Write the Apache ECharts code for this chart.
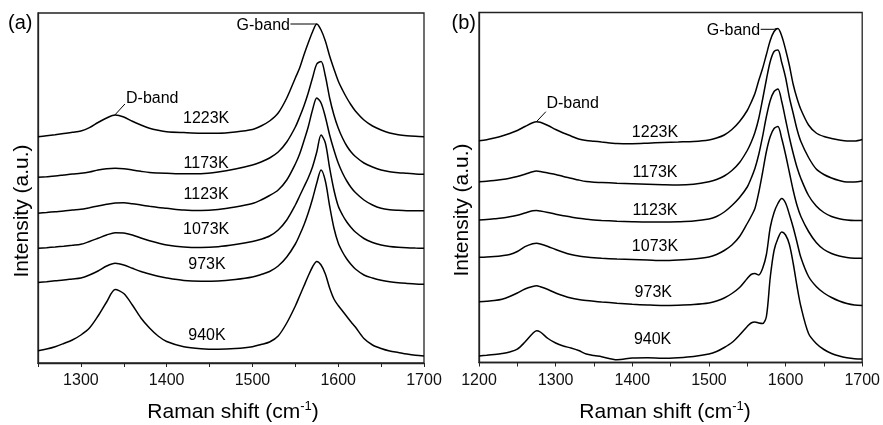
<!DOCTYPE html>
<html><head><meta charset="utf-8">
<script src="https://cdn.jsdelivr.net/npm/echarts@6/dist/echarts.min.js"></script>
<style>html,body{margin:0;padding:0;background:#fff}#c{width:883px;height:425px}</style>
</head><body><div id="c"></div>
<script>
// ---- Panel (a) ----
const shiftA = [1250,1260,1270,1280,1290,1300,1310,1320,1330,1340,1350,1360,1370,1380,1390,1400,1420,1440,1460,1480,1500,1510,1520,1530,1540,1550,1555,1560,1565,1570,1575,1580,1585,1590,1595,1600,1605,1610,1615,1620,1630,1640,1650,1660,1670,1680,1690,1700];
const a1223 = [226.3,227.3,228.3,229.4,230.7,232,235.3,240.5,245,248,246,241.7,238,234.7,232.7,231.3,230.4,229.8,229.8,231,233.5,237,242,250,265,285,295,308,320,331,339,333,322,307,294,282,273,265,258,252,243,237,233,230,228.3,227.3,226.7,226.3];
const a1173 = [185.7,186.3,187,188,189,189.7,191,193,194.3,194.7,194.3,193,191.7,190.5,190,189.7,189.2,189.3,191,194,198,201,205,211,221,236,246,257,270,285,299,301.5,287,265,248,235,225,217,211,206.5,200,196,193,191.3,190.3,189.7,189,188.7];
const a1123 = [149.7,150.5,151.3,152,153,153.7,155.3,157,158.7,160,160.3,159.3,158,156.7,155.5,154.7,153,152.5,153.5,156,159.5,163,167.5,173,183,199,209,222,236,253,265,260,246,228,213,200,190,182,175.5,170.5,163,158,154.7,153.3,152.7,152.3,152.2,152.3];
const a1073 = [114.7,115.3,116,116.8,117.7,118.7,121.5,124.7,128,130.3,130,128,125,122.3,120,118,116,115.5,116.3,118.5,121.5,123.8,127,133,143,158,167,176,185,196,211,228,220,195,173,157,148,141,135.5,131,124.5,120.5,118,116.5,115.7,115.2,114.9,114.7];
const a973 = [80.5,81.3,82.2,83,84,85,88,92,97,99.7,98,94.7,91.5,89,86.8,85,82.5,81.8,82,83.5,86,88.5,91.5,97,106,119,128,138,150,164,180,193,182,157,135,120,111,104,98.5,94,88,85,82.8,81.3,80.3,79.6,79,78.7];
const a940 = [12.3,14,16.3,19.5,23,28,35,47,61,73.5,69.5,58,45,35,27,21.5,16.3,14.3,13.8,14.5,16.3,18.5,21,27,40,57,67,77,87,96,101.5,98,89,75,64,57.5,52,46.5,41,36,24.5,18,14.5,12,10.5,9,7.8,7];

// ---- Panel (b) ----
const shiftB = [1200,1210,1220,1230,1240,1250,1260,1270,1275,1280,1290,1300,1310,1320,1330,1340,1350,1360,1380,1400,1420,1440,1460,1480,1500,1510,1520,1530,1540,1550,1555,1560,1565,1570,1575,1580,1585,1590,1595,1600,1605,1610,1615,1620,1630,1640,1650,1660,1670,1680,1690,1700];
const b1223 = [221.8,222.8,224.5,226.5,229,232,236,239.8,240.8,240.3,237,233,229.5,226.5,223.5,222,221.3,220.5,219,218.8,219.3,220,220.5,221,222.5,224.5,227.5,233,241,252,260,269,282,294,308,322,331,334,326.5,313,297,278,264,253,237.5,229.5,226,224,222.5,221.5,221.5,223];
const b1173 = [180.8,181.3,182,183,184.3,186,188.3,190.8,191.5,191,189.5,188,186,184.3,182.5,181,180.3,180,179.3,178.8,178.3,177.8,177.5,178.3,180.8,183,186.5,192,200,212,220,230,244,263,283,301,311,312.5,300,285,265,249,233,221,205,193.5,188,184.5,182,180.5,180.5,181.5];
const b1123 = [142.5,143,143.7,144.5,145.7,147.3,149.5,151.7,152,151.5,150,148.3,146.8,145.5,144.2,143.3,142.5,142,141.3,140.8,140.5,140.5,140.8,141.5,143.5,146,150.5,157,165,175.5,184,194,208,226,246,262,271,273.5,261,243,225,209,195,184,167,156.5,150,146,143.8,142.5,142,142];
const b1073 = [105.2,105.5,106,106.8,108,111,115.8,118.8,119.2,118.5,116,113,110.3,108,106.5,105.5,104.7,104.2,103.5,103,102.5,102,102.5,103.5,105.5,108,112,117.5,126,139,146,154,170,190,211,226,234,236,224,208,190,172,157,146,131,120,113,109,106.5,105,104.3,104.2];
const b973 = [60.8,61.3,62,63.3,66,69.5,73.5,76,76.7,75.8,73,69.5,66.8,64.5,63,62,61.2,60.5,59.3,58.3,57.5,57,57.3,58,59.5,61.5,64.5,69,75,84,88,89,87.5,94,108,135,150,159,164,159.5,148,135,120,105,86,76,69.5,65,61.5,59,57.5,57];
const b940 = [6.5,7.2,8,9,10.5,13.3,20.5,29,31.8,30.5,24,19.5,16.5,14.5,12,8.5,7,5.8,2.8,4.5,4.8,4.2,4.8,6,8.5,11,15,20,27.5,36,39.5,40.5,39.5,39,46,85,112,124,130.5,127.5,118,99,76,56,29,19,13,9,6.5,4.8,3.8,3.5];

const tickLabelsA = [1300,1400,1500,1600,1700];
const tickLabelsB = [1200,1300,1400,1500,1600,1700];
const tempLabels = ['1223K','1173K','1123K','1073K','973K','940K'];
const xTitle = 'Raman shift (cm{sup|-1})';
const yTitle = 'Intensity (a.u.)';

const FONT = '"Liberation Sans", Arial, Helvetica, sans-serif';
const chart = echarts.init(document.getElementById('c'));

function mkSeries(xs, ys, gi) {
  return {type:'line', xAxisIndex:gi, yAxisIndex:gi, data: xs.map((x,i)=>[x, ys[i]]),
    showSymbol:false, symbol:'none', smooth:0.3, silent:true, animation:false,
    lineStyle:{color:'#000', width:1.5}};
}
function mkX(gi, min, ticks) {
  return {gridIndex:gi, type:'value', min:min, max:1700, interval:50,
    axisLine:{show:true, onZero:false, lineStyle:{color:'#222', width:1.3}},
    axisTick:{show:true, inside:false, length:4, lineStyle:{color:'#222', width:1}},
    axisLabel:{fontSize:16, fontFamily:FONT, color:'#111', margin:10,
      formatter: v => ticks.indexOf(v) >= 0 ? String(v) : ''},
    splitLine:{show:false}};
}
function mkY(gi) {
  return {gridIndex:gi, type:'value', min:0, max:350,
    axisLine:{show:true, lineStyle:{color:'#222', width:1.3}},
    axisTick:{show:false}, axisLabel:{show:false}, splitLine:{show:false}};
}
const seriesA = [a1223,a1173,a1123,a1073,a973,a940].map(s => mkSeries(shiftA, s, 0));
const seriesB = [b1223,b1173,b1123,b1073,b973,b940].map(s => mkSeries(shiftB, s, 1));

chart.setOption({
  animation:false,
  backgroundColor:'#fff',
  grid:[
    {left:38, top:13, width:386, height:350, show:true, borderColor:'#222', borderWidth:1.3},
    {left:479, top:12.5, width:387, height:350, show:true, borderColor:'#222', borderWidth:1.3}
  ],
  xAxis:[mkX(0, 1250, tickLabelsA), mkX(1, 1200, tickLabelsB)],
  yAxis:[mkY(0), mkY(1)],
  series: seriesA.concat(seriesB)
});

// annotation anchors in data coordinates
const labelPosA = [[1446,244],[1446,199.3],[1446,168],[1446,133],[1447,98],[1447,27]];
const labelPosB = [[1429.6,229.5],[1429.6,189.5],[1429.6,152.2],[1429.6,115.5],[1427.4,69.8],[1426.5,22.5]];
const annot = [
  {gi:0, dText:[1352.6,264.7], dLine:[[1339.6,248],[1351.3,259]], gText:[1543.7,337], gLine:[[1544.3,339],[1572,339],[1575,339]]},
  {gi:1, dText:[1288,258.5], dLine:[[1275,240.8],[1287.2,250.8]], gText:[1566.8,331.5], gLine:[[1567.5,333.2],[1585,333.2],[1589,334.2]]}
];

const P = (gi, p) => chart.convertToPixel({gridIndex:gi}, p);
function txt(pos, text, size, align, valign, extra) {
  return Object.assign({type:'text', x:pos[0], y:pos[1], silent:true, z:20,
    style:{text:text, fontSize:size, fontFamily:FONT, fill:'#000',
      align:align, verticalAlign:valign, textAlign:align, textVerticalAlign:valign}}, extra||{});
}
function line(gi, pts) {
  return {type:'polyline', silent:true, z:20, shape:{points: pts.map(p => P(gi, p))},
    style:{stroke:'#000', lineWidth:1, fill:null}};
}
const g = [];
[labelPosA, labelPosB].forEach((arr, gi) => {
  arr.forEach((p, i) => g.push(txt(P(gi, p), tempLabels[i], 16, 'center', 'middle')));
});
annot.forEach(a => {
  g.push(txt(P(a.gi, a.dText), 'D-band', 16, 'left', 'middle'));
  g.push(line(a.gi, a.dLine));
  g.push(txt(P(a.gi, a.gText), 'G-band', 16, 'right', 'middle'));
  g.push(line(a.gi, a.gLine));
});
// panel letters and axis titles
g.push(txt([8,23], '(a)', 20, 'left', 'middle'));
g.push(txt([451.5,23], '(b)', 20, 'left', 'middle'));
const rich = {sup:{fontSize:13, fontFamily:FONT, fill:'#000', lineHeight:14, verticalAlign:'top'}};
[[233,412],[665,412]].forEach(p => {
  const t = txt(p, xTitle, 21, 'center', 'middle');
  t.style.rich = rich; t.style.lineHeight = 24;
  g.push(t);
});
[[22,211],[462,210]].forEach(p => {
  g.push(txt(p, yTitle, 21, 'center', 'middle', {rotation: Math.PI/2}));
});
chart.setOption({graphic: g});
</script>
</body></html>
